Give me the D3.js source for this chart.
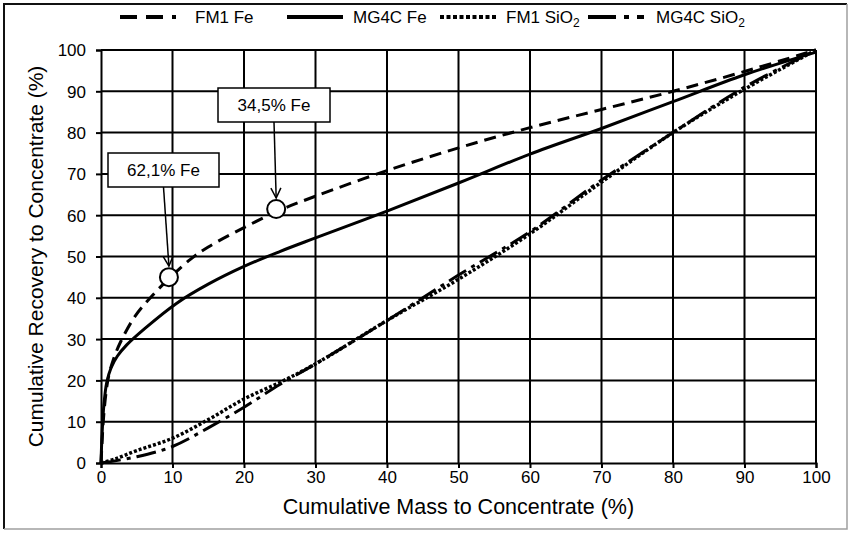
<!DOCTYPE html>
<html lang="en">
<head>
<meta charset="UTF-8">
<script src="https://d3js.org/d3.v7.min.js"></script>
<style>
  body { margin: 0; background: #fff; }
  text { font-family: "Liberation Sans", Arial, sans-serif; fill: #000; }
</style>
<title>Cumulative recovery</title>
</head>
<body>
<div id="chart"></div>
<script>
    const width = 851, height = 534;
    const margin = { left: 101, right: 35, top: 50, bottom: 71 };

    // axis ticks
    const xTicks = [0, 10, 20, 30, 40, 50, 60, 70, 80, 90, 100];
    const yTicks = [0, 10, 20, 30, 40, 50, 60, 70, 80, 90, 100];

    // series, [mass %, recovery %]
    const fm1Fe = [[0, 0], [0.15, 5], [0.33, 10.4], [0.7, 17], [1.1, 21.3], [1.7, 24.9], [2.65, 29],
        [4.75, 35.5], [7, 40.2], [9.6, 44.8], [12.5, 49.3], [15, 52.3], [20, 57], [25, 61.2],
        [30, 64.6], [40, 70.8], [50, 76.3], [60, 81.2], [70, 85.6], [80, 90], [90, 94.8], [100, 100]];
    const mg4cFe = [[0, 0], [0.15, 7], [0.4, 14], [0.8, 19.5], [1.4, 23], [2.3, 25.9], [3.6, 28.6],
        [6.15, 32.6], [10.6, 38.7], [15, 43.3], [20, 47.6], [25, 51.2], [30, 54.5], [40, 61],
        [50, 67.8], [60, 74.8], [70, 81], [80, 87.5], [90, 94], [100, 99.5]];
    const fm1SiO2 = [[0, 0], [2, 1], [5, 3], [10, 6], [15, 10.5], [20, 15.5], [25, 19.5],
        [30, 24], [40, 34.5], [50, 44.5], [60, 55.5], [70, 68], [80, 80], [90, 90.5], [100, 100]];
    const mg4cSiO2 = [[0, 0], [5, 1.5], [10, 4], [15, 8.5], [20, 13.5], [25, 19], [30, 24],
        [40, 34.5], [50, 45.5], [60, 56], [70, 68.5], [80, 80], [90, 91], [100, 100]];

    const seriesNames = ["FM1 Fe", "MG4C Fe", "FM1 SiO2", "MG4C SiO2"];
    const seriesData = [fm1Fe, mg4cFe, fm1SiO2, mg4cSiO2];
    const dashes = ["12,7", null, "3,2", "20,6,4,6"];
    const legendDashes = ["17,9", null, "4,2.5", "28,8,5,8"];

    // annotated points
    const noteLabels = ["62,1% Fe", "34,5% Fe"];
    const notePoints = [[9.5, 45], [24.5, 61.5]];

    const svg = d3.select("#chart").append("svg")
        .attr("width", width)
        .attr("height", height);

    // outer frame, dark top/left and grey bottom/right
    svg.append("rect").attr("width", width).attr("height", height).attr("fill", "#fff");
    svg.append("path").attr("d", "M4,529 V4 H847").attr("fill", "none")
        .attr("stroke", "#111").attr("stroke-width", 2);
    svg.append("path").attr("d", "M847,4 V529 H4").attr("fill", "none")
        .attr("stroke", "#a0a0a0").attr("stroke-width", 1.5);

    const x = d3.scaleLinear().domain([0, 100]).range([margin.left, width - margin.right]);
    const y = d3.scaleLinear().domain([0, 100]).range([height - margin.bottom, margin.top]);

    // grid
    svg.append("g").selectAll("line").data(xTicks.slice(1)).enter().append("line")
        .attr("x1", d => x(d)).attr("x2", d => x(d))
        .attr("y1", y(0)).attr("y2", y(100))
        .attr("stroke", "#000").attr("stroke-width", 2);
    svg.append("g").selectAll("line").data(yTicks.slice(1)).enter().append("line")
        .attr("x1", x(0)).attr("x2", x(100))
        .attr("y1", d => y(d)).attr("y2", d => y(d))
        .attr("stroke", "#000").attr("stroke-width", 2);

    // axes
    const xAxis = svg.append("g")
        .attr("transform", `translate(0,${y(0)})`)
        .call(d3.axisBottom(x).tickValues(xTicks).tickSize(5).tickPadding(3));
    const yAxis = svg.append("g")
        .attr("transform", `translate(${x(0)},0)`)
        .call(d3.axisLeft(y).tickValues(yTicks).tickSize(5).tickPadding(10));
    [xAxis, yAxis].forEach(g => {
        g.select(".domain").attr("stroke", "#000").attr("stroke-width", 2);
        g.selectAll(".tick line").attr("stroke", "#000").attr("stroke-width", 2);
        g.selectAll(".tick text").style("font-size", "17px")
            .style("font-family", "'Liberation Sans', Arial, sans-serif").attr("fill", "#000");
    });
    yAxis.selectAll(".tick text").attr("dy", "0.35em");

    svg.append("text")
        .attr("x", (x(0) + x(100)) / 2).attr("y", 514)
        .attr("text-anchor", "middle").style("font-size", "21.5px")
        .text("Cumulative Mass to Concentrate (%)");
    svg.append("text")
        .attr("transform", `translate(43,${(y(0) + y(100)) / 2}) rotate(-90)`)
        .attr("text-anchor", "middle").style("font-size", "21px")
        .text("Cumulative Recovery to Concentrate (%)");

    // series, smoothed like the spreadsheet lines
    const line = d3.line().x(d => x(d[0])).y(d => y(d[1])).curve(d3.curveCatmullRom.alpha(0.5));
    seriesData.forEach((data, i) => {
        svg.append("path")
            .datum(data)
            .attr("d", line)
            .attr("fill", "none")
            .attr("stroke", "#000")
            .attr("stroke-width", i === 2 ? 3.5 : 3)
            .attr("stroke-dasharray", dashes[i]);
    });

    // legend
    const legendX = [120, 287, 440, 588];
    const legendTextX = [195, 353, 506, 656];
    const legend = svg.append("g");
    seriesNames.forEach((name, i) => {
        legend.append("line")
            .attr("x1", legendX[i]).attr("x2", legendX[i] + 56)
            .attr("y1", 17).attr("y2", 17)
            .attr("stroke", "#000").attr("stroke-width", 4)
            .attr("stroke-dasharray", legendDashes[i]);
        const t = legend.append("text")
            .attr("x", legendTextX[i]).attr("y", 23)
            .style("font-size", "17px");
        const m = name.match(/^(.*SiO)2$/);
        if (m) {
            t.append("tspan").text(m[1]);
            t.append("tspan").attr("dy", 4).style("font-size", "12px").text("2");
        } else {
            t.text(name);
        }
    });

    // annotations
    svg.append("defs").append("marker")
        .attr("id", "arrow").attr("viewBox", "0 0 12 12")
        .attr("refX", 11).attr("refY", 6)
        .attr("markerWidth", 12).attr("markerHeight", 12)
        .attr("markerUnits", "userSpaceOnUse")
        .attr("orient", "auto")
        .append("path").attr("d", "M1,1 L11,6 L1,11")
        .attr("fill", "none").attr("stroke", "#000").attr("stroke-width", 1.5);

    const boxes = [{ x: 108, y: 153, w: 111, h: 34 }, { x: 218, y: 88, w: 112, h: 34 }];
    notePoints.forEach((p, i) => {
        const b = boxes[i];
        const cx = x(p[0]), cy = y(p[1]);
        svg.append("line")
            .attr("x1", b.x + b.w / 2).attr("y1", b.y + b.h)
            .attr("x2", cx).attr("y2", cy - 11)
            .attr("stroke", "#000").attr("stroke-width", 1.5)
            .attr("marker-end", "url(#arrow)");
        svg.append("rect")
            .attr("x", b.x).attr("y", b.y).attr("width", b.w).attr("height", b.h)
            .attr("fill", "#fff").attr("stroke", "#000").attr("stroke-width", 1.5);
        svg.append("text")
            .attr("x", b.x + b.w / 2).attr("y", b.y + b.h / 2 + 6)
            .attr("text-anchor", "middle").style("font-size", "17px")
            .text(noteLabels[i]);
        svg.append("circle")
            .attr("cx", cx).attr("cy", cy).attr("r", 9)
            .attr("fill", "#fff").attr("stroke", "#000").attr("stroke-width", 2);
    });
</script>
</body>
</html>
